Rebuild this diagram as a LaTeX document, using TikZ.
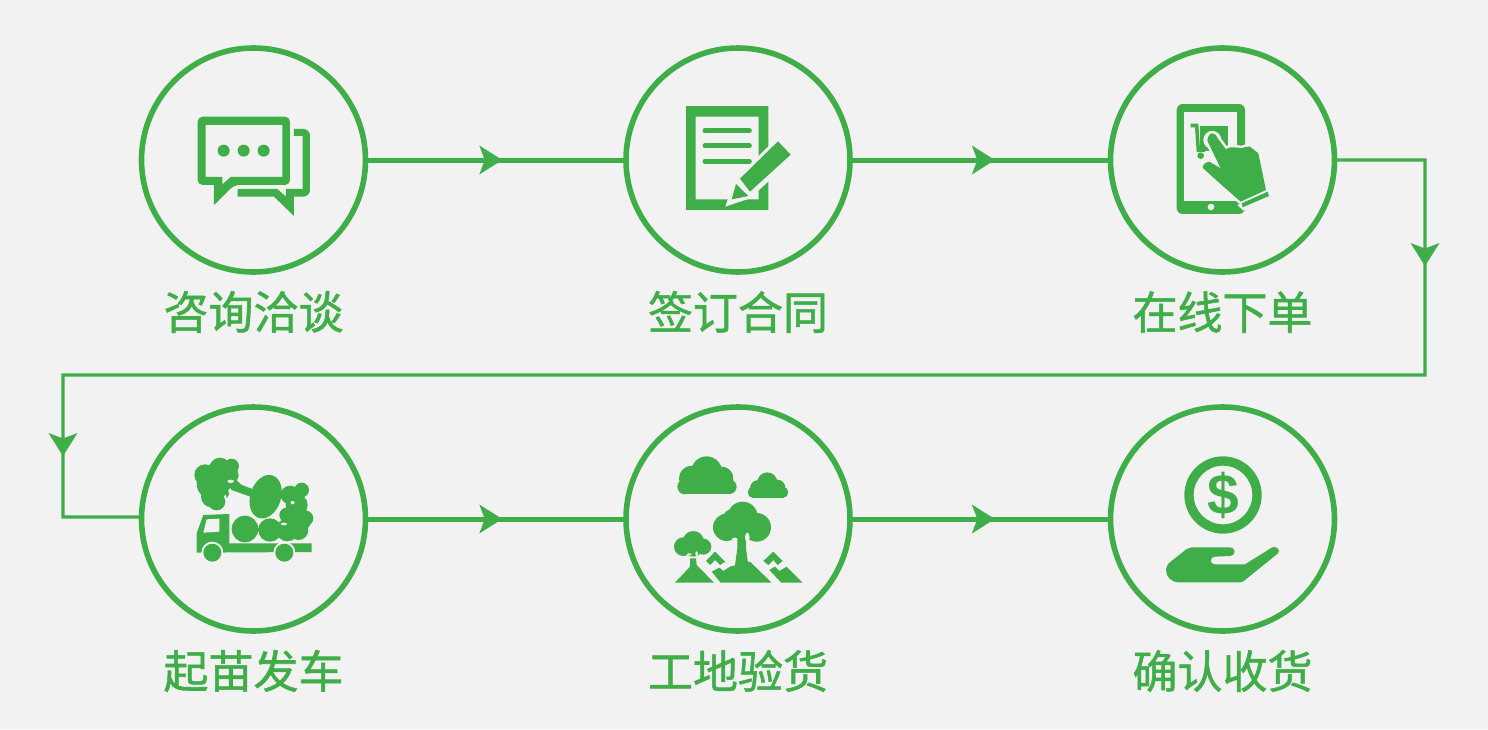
\documentclass[tikz,border=0pt]{standalone}
\usepackage{fontspec}
\usetikzlibrary{decorations.markings}
\newfontfamily\cjk[FakeBold=1.2]{Noto Sans CJK SC}
\setmainfont{Liberation Sans}
\definecolor{gr}{HTML}{3FAE49}
\definecolor{bg}{HTML}{F2F2F2}
\newcommand{\tipmark}{\fill[gr] (-23pt,-14.5pt)--(0pt,0pt)--(-23pt,14.5pt)--(-17.5pt,0pt)--cycle;}
\tikzset{
  ring/.style={circle,draw=gr,line width=5.6pt,minimum size=224pt,inner sep=0pt,outer sep=0pt},
  lab/.style={text=gr,inner sep=0pt,font=\cjk\fontsize{45}{50}\selectfont},
  link/.style={draw=gr,line width=5pt,postaction={decorate},decoration={markings,mark=at position #1 with {\tipmark}}},
  longlink/.style={draw=gr,line width=3.2pt,line join=miter,postaction={decorate},decoration={markings,
    mark=at position 196.5pt with {\tipmark},
    mark=at position 1748.5pt with {\tipmark}}},
  zoomed/.style={shift={#1},x=0.3333pt,y=-0.3333pt},
  gline/.style={draw=gr,line width=5pt,line cap=round},
  cut/.style={fill=bg,draw=none}
}
\begin{document}
\begin{tikzpicture}[x=1pt,y=-1pt]
\useasboundingbox (0,0) rectangle (1488,729);
\fill[bg] (0,0) rectangle (1488,729);
% nodes
\node[ring] (c1) at (253.5,160) {};
\node[ring] (c2) at (738,160) {};
\node[ring] (c3) at (1222.5,160) {};
\node[ring] (c4) at (253.5,519) {};
\node[ring] (c5) at (738,519) {};
\node[ring] (c6) at (1222.5,519) {};
\node[lab] (t1) at (253.5,312) {咨询洽谈};
\node[lab] (t2) at (738,312) {签订合同};
\node[lab] (t3) at (1222.5,312) {在线下单};
\node[lab] (t4) at (253.5,671) {起苗发车};
\node[lab] (t5) at (738,671) {工地验货};
\node[lab] (t6) at (1222.5,671) {确认收货};
% connectors
\coordinate (k1) at (1425,160);
\coordinate (k2) at (1425,375);
\coordinate (k3) at (63,375);
\coordinate (k4) at (63,517);
\path[link=0.525] (c1.east) -- (c2.west);
\path[link=0.556] (c2.east) -- (c3.west);
\path[longlink] (c3.east) -- (k1) -- (k2) -- (k3) -- (k4) -- (c4.179);
\path[link=0.525] (c4.east) -- (c5.west);
\path[link=0.556] (c5.east) -- (c6.west);
% icon 1
\begin{scope}[zoomed={(140,50)}]
\fill[gr,even odd rule] [rounded corners=5pt] (173,200)--(450,200)--(450,405)--(283,405)[sharp corners]--(222,465)--(222,405)[rounded corners=5pt]--(173,405)--cycle
 [sharp corners] (197,225)--(427,225)--(427,381)--(272,381)--(247,403)--(247,381)--(197,381)--cycle;
\fill[gr] (251,302) circle (18) (311,302) circle (18) (371,302) circle (18);
\fill[gr] (293,417)--(293,440)--(402,440)--(462,498)--(462,440)--(490,440) to[out=0,in=-90] (510,420)--(510,257) to[out=90,in=0] (490,237)--(462,237)--(462,258)--(488,258)--(488,417)--(438,417)--(438,440)--(412,417)--cycle;
\end{scope}
% icon 2
\begin{scope}[zoomed={(650,80)}]
\fill[gr,even odd rule] (108,78) rectangle (355,390) (137,110) rectangle (326,358);
\foreach \yy in {152,198,244} \draw[gline] (165,\yy)--(298,\yy);
\fill[cut] (385,170)--(442,225)--(300,355)--(226,380)--(252,300)--cycle;
\fill[gr] (384,184)--(422,224)--(300,335)--(270,296)--cycle;
\fill[gr] (258,312)--(295,348)--(245,358)--cycle;
\end{scope}
% icon 3
\begin{scope}[zoomed={(1150,90)}]
\fill[gr,rounded corners=6pt] (80,42) rectangle (285,372);
\fill[bg] (103,66) rectangle (262,332);
\fill[bg] (183,351) circle (10);
\fill[gr] (150,108) rectangle (235,182);
\fill[gr] (122,101)--(145,101)--(150,178)--(165,178)--(165,186)--(140,186)--(135,112)--(122,112)--cycle;
\fill[gr] (152,197) circle (10);
\fill[bg] (187,150) circle (27);
\path[fill=bg,draw=bg,line width=5pt,line join=round]
 (172,152) to[out=80,in=180] (187,130) to[out=0,in=110] (203,145) -- (228,178) to[out=50,in=180] (248,172) to[out=10,in=180] (275,175) to[out=20,in=170] (300,170) -- (325,190) -- (348,300) -- (272,335) -- (215,285) -- (165,240) to[out=170,in=220] (160,225) to[out=40,in=180] (178,215) -- (212,235) -- cycle;
\path[fill=gr]
 (172,152) to[out=80,in=180] (187,130) to[out=0,in=110] (203,145) -- (228,178) to[out=50,in=180] (248,172) to[out=10,in=180] (275,175) to[out=20,in=170] (300,170) -- (325,190) -- (348,300) -- (272,335) -- (215,285) -- (165,240) to[out=170,in=220] (160,225) to[out=40,in=180] (178,215) -- (212,235) -- cycle;
\fill[bg] (262,345)--(360,300)--(362,322)--(280,362)--cycle;
\fill[gr] (275,340)--(353,305)--(357,318)--(278,352)--cycle;
\end{scope}
% icon 4
\begin{scope}[zoomed={(170,440)}]
\fill[gr] (100,225)--(178,222)--(178,310)--(425,310)--(425,336)--(80,338)--(80,280)--cycle;
\fill[bg] (110,238)--(148,236)--(148,275)--(100,278)--cycle;
\fill[bg] (127,338) circle (33) (343,338) circle (33);
\fill[gr] (127,338) circle (27) (343,338) circle (27);
\fill[gr] (225,267) circle (40) (300,270) circle (35);
\fill[gr,rotate around={-18:(287,170)}] (287,170) ellipse (46 and 67);
\fill[gr] (105,105) circle (32) (150,85) circle (32) (185,78) circle (22) (182,105) circle (24)
 (130,130) circle (50) (150,130) circle (32) (125,170) circle (32) (140,185) circle (26);
\fill[gr] (190,112)--(215,135)--(250,148)--(255,175)--(185,150)--(170,175)--(160,120)--cycle;
\fill[bg] (182,124) ellipse (10 and 5) (180,153) ellipse (5 and 8);
\fill[gr] (360,165) circle (28) (395,150) circle (22) (380,195) circle (33) (385,240) circle (38)
 (407,235) circle (23) (352,270) circle (34) (350,225) circle (22) (385,270) circle (30);
\fill[bg] (368,188) ellipse (6 and 5) (342,252) ellipse (9 and 4);
\end{scope}
% icon 5
\begin{scope}[zoomed={(660,445)}]
\fill[gr] (140,80) circle (46) (95,100) circle (38) (185,100) circle (35) (75,125) circle (23) (208,125) circle (22);
\fill[gr] (75,102) rectangle (208,148);
\fill[gr] (322,112) circle (30) (295,130) circle (25) (352,128) circle (24) (280,142) circle (17) (368,142) circle (17);
\fill[gr] (280,125) rectangle (368,159);
\fill[gr] (248,215) circle (45) (200,247) circle (41) (290,247) circle (43) (250,240) circle (45) (215,218) circle (25);
\fill[gr] (232,275)--(232,310)--(224,368)--(266,368)--(258,310)--(258,275)--cycle;
\fill[bg] (224,283) ellipse (8 and 5) (262,277) ellipse (7 and 14);
\fill[gr] (155,380)--(178,368)--(190,378)--(210,365)--(270,350)--(335,413)--(182,413)--cycle;
\fill[gr] (45,413)--(90,365)--(90,340)--(108,340)--(110,360)--(162,413)--cycle;
\fill[gr] (100,290) circle (32) (70,305) circle (28) (130,305) circle (24) (100,305) circle (30);
\fill[bg] (88,328) ellipse (7 and 3) (110,326) ellipse (4 and 7);
\fill[gr] (138,348)--(165,320)--(195,350)--(180,360)--(165,345)--(150,360)--cycle;
\fill[gr] (310,348)--(340,320)--(368,348)--(353,360)--(340,345)--(325,360)--cycle;
\fill[gr] (328,375)--(345,365)--(358,378)--(380,365)--(428,413)--(364,413)--cycle;
\end{scope}
% icon 6
\begin{scope}[zoomed={(1150,445)}]
\fill[gr,even odd rule] (219,150) circle (116) (219,150) circle (88);
\node[inner sep=0pt,text=gr,font=\bfseries\fontsize{57}{57}\selectfont] (dollar) at (219,150) {\$};
\fill[gr] (48,375) to[out=80,in=215] (62,350) -- (110,312) to[out=35,in=180] (125,307) -- (240,307) to[out=0,in=90] (254,320) to[out=-90,in=0] (240,333) -- (195,335) to[out=180,in=90] (182,347) to[out=-90,in=180] (195,358) -- (285,358) -- (365,308) to[out=30,in=90] (387,318) to[out=-90,in=40] (378,330) -- (285,405) to[out=215,in=0] (270,412) -- (85,412) to[out=180,in=-90] (48,375) -- cycle;
\end{scope}
\end{tikzpicture}
\end{document}
